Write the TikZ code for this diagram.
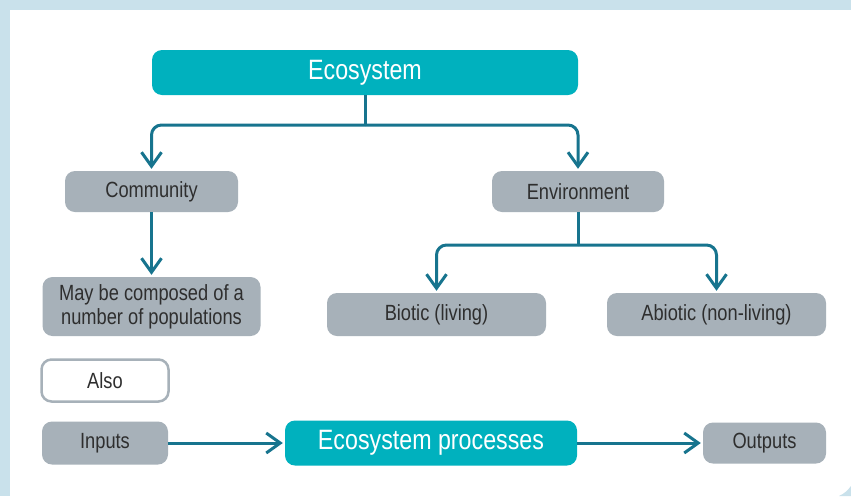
\documentclass[tikz,border=0pt]{standalone}
\usepackage{fontspec}
\setmainfont[FakeStretch=0.83]{Liberation Sans}
\usetikzlibrary{arrows.meta}
\definecolor{ecoteal}{HTML}{00B1BE}
\definecolor{boxgray}{HTML}{A7B1B9}
\definecolor{arrowblue}{HTML}{17748E}
\definecolor{frameblue}{HTML}{C9E1EB}
\definecolor{textgray}{HTML}{2E2E2E}

\begin{document}
\begin{tikzpicture}
[x=1pt,y=-1pt,
 every node/.style={rectangle,rounded corners=10pt,inner sep=0pt,align=center,
   font=\fontsize{22}{24}\selectfont,text=textgray},
 gbox/.style={fill=boxgray},
 tbox/.style={fill=ecoteal,text=white,font=\fontsize{28}{30}\selectfont},
 obox/.style={draw=boxgray,line width=2.5pt,fill=white},
 stem/.style={draw=arrowblue,line width=3pt},
 link/.style={stem,rounded corners=10pt,shorten >=2pt,
   -{Straight Barb[length=14pt,width=20pt]}}]
  \useasboundingbox (0,0) rectangle (851,496);
  \fill[white] (0,0) rectangle (851,496);
  % frame: top and left bands, cut corner at bottom right
  \fill[frameblue] (0,0) rectangle (851,10);
  \fill[frameblue] (0,10) rectangle (10,496);
  \fill[frameblue] (851,486) .. controls (848,490) and (844,494) .. (839,496) -- (851,496) -- cycle;

  \node[tbox,minimum width=426pt,minimum height=45pt] (eco) at (365,72.5) {Ecosystem};
  \node[gbox,minimum width=173pt,minimum height=41pt] (com) at (151.5,191.5) {Community};
  \node[gbox,minimum width=172pt,minimum height=41pt] (env) at (578,191.5) {Environment};
  \node[gbox,minimum width=218pt,minimum height=59pt] (pop) at (151.5,306.5) {May be composed of a\\number of populations};
  \node[gbox,minimum width=219pt,minimum height=43pt] (bio) at (436.5,314.5) {Biotic (living)};
  \node[gbox,minimum width=219pt,minimum height=43pt] (abio) at (716.5,314.5) {Abiotic (non-living)};
  \node[obox,minimum width=127pt,minimum height=42pt] (also) at (105,380.5) {Also};
  \node[gbox,minimum width=126pt,minimum height=43pt] (in) at (105,443) {Inputs};
  \node[tbox,minimum width=292pt,minimum height=45pt] (proc) at (431,443) {Ecosystem processes};
  \node[gbox,minimum width=123pt,minimum height=41pt] (out) at (764.5,443) {Outputs};

  \coordinate (j1) at (365,125);
  \coordinate (j2) at (578,245);

  \draw[stem] (eco.south) -- (j1);
  \draw[stem] (env.south) -- (j2);
  \foreach \via/\to in {j1/com,j1/env,j2/bio,j2/abio}
    \draw[link] (\via) -| (\to.north);
  \draw[link] (com) -- (pop);
  \foreach \from/\to in {in/proc,proc/out}
    \draw[link] (\from) -- (\to);
\end{tikzpicture}
\end{document}
